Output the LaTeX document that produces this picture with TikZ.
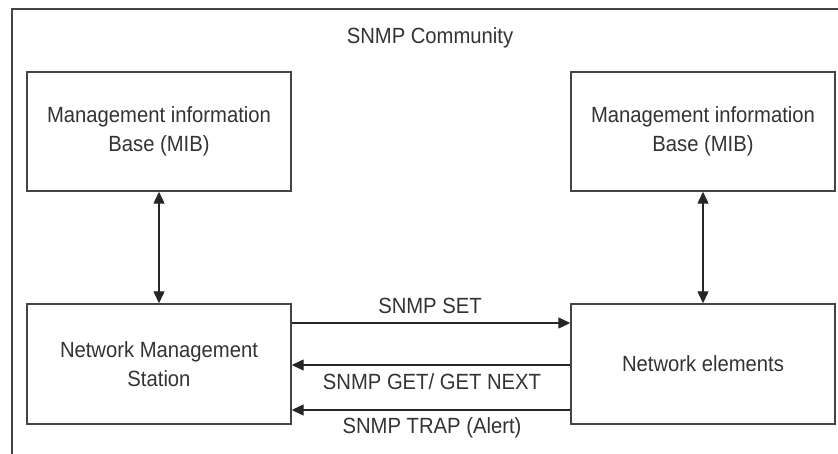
\documentclass[tikz,border=0pt]{standalone}
\usepackage{fontspec}
\setmainfont{Liberation Sans}[FakeStretch=0.92]
\usetikzlibrary{arrows.meta}
\definecolor{ink}{HTML}{333333}
\definecolor{rule}{HTML}{444444}
\tikzset{
  box/.style={draw=rule, line width=1.4pt, minimum width=264pt, minimum height=119pt,
    inner sep=0pt, align=center, text=ink, font=\fontsize{22}{28.5}\selectfont},
  lbl/.style={text=ink, font=\fontsize{22}{28}\selectfont, inner sep=0pt},
  link/.style={line width=1.3pt, draw=black!85},
  tip/.style={-{Triangle[length=12pt,width=11pt]}},
  both/.style={{Triangle[length=12pt,width=11pt]}-{Triangle[length=12pt,width=11pt]}}
}
\begin{document}
\begin{tikzpicture}[x=1pt,y=-1pt]
  \useasboundingbox (0,0) rectangle (838,454);
  % community frame (open to the right and bottom)
  \draw[rule, line width=1.8pt] (838,9) -- (12,9) -- (12,454);
  \node[lbl] (title) at (430,38) {SNMP Community};

  % boxes
  \node[box] (mibL) at (159,131.5) {Management information\\Base (MIB)};
  \node[box] (mibR) at (703,131.5) {Management information\\Base (MIB)};
  \node[box, minimum height=120pt] (nms) at (159,364) {Network Management\\Station};
  \node[box, minimum height=120pt] (ne) at (703,364) {Network elements};

  % MIB access
  \draw[link, both] (mibL.south) -- (nms.north);
  \draw[link, both] (mibR.south) -- (ne.north);

  % SNMP messages
  \coordinate (setL) at (nms.east |- 0,323);
  \coordinate (setR) at (ne.west |- 0,323);
  \coordinate (getL) at (nms.east |- 0,365);
  \coordinate (getR) at (ne.west |- 0,365);
  \coordinate (trapL) at (nms.east |- 0,410);
  \coordinate (trapR) at (ne.west |- 0,410);
  \draw[link, tip] (setL) -- (setR);
  \draw[link, tip] (getR) -- (getL);
  \draw[link, tip] (trapR) -- (trapL);

  \node[lbl] (setlbl) at (430,306) {SNMP SET};
  \node[lbl] (getlbl) at (432,382) {SNMP GET/ GET NEXT};
  \node[lbl] (traplbl) at (432,428) {SNMP TRAP (Alert)};
\end{tikzpicture}
\end{document}
